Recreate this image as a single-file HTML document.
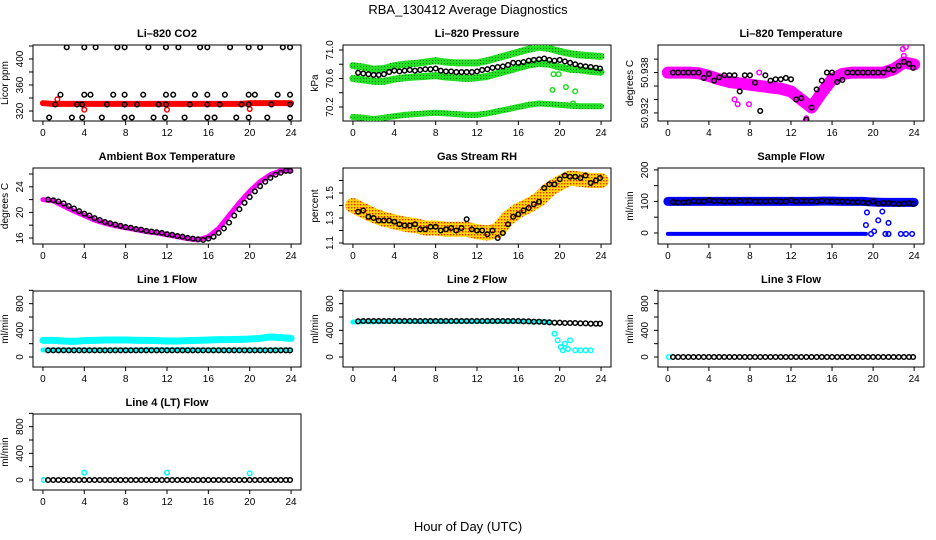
<!DOCTYPE html>
<html><head><meta charset="utf-8"><style>
html,body{margin:0;padding:0;background:#fff}
svg{display:block;font-family:"Liberation Sans",sans-serif}
</style></head><body>
<svg id="c" width="936" height="540" viewBox="0 0 936 540">
<text x="468" y="14" text-anchor="middle" font-size="13">RBA_130412  Average Diagnostics</text>
<text x="468" y="531" text-anchor="middle" font-size="13">Hour of Day (UTC)</text>
</svg>
<script>
// ---------- data ----------
const H24=[0,1,2,3,4,5,6,7,8,9,10,11,12,13,14,15,16,17,18,19,20,21,22,23,24];
const HB=[0.5,1,1.5,2,2.5,3,3.5,4,4.5,5,5.5,6,6.5,7,7.5,8,8.5,9,9.5,10,10.5,11,11.5,12,12.5,13,13.5,14,14.5,15,15.5,16,16.5,17,17.5,18,18.5,19,19.5,20,20.5,21,21.5,22,22.5,23,23.5,23.9];
// CO2
const co2X=[2.3,4.0,5.1,7.2,7.9,10.2,11.9,13.1,15.2,15.9,18.1,19.9,21.0,23.2,23.9,
1.7,4.0,4.6,6.8,7.9,9.7,11.9,12.6,14.7,15.9,17.6,19.9,20.5,22.7,23.9,
1.2,3.3,3.8,6.2,7.9,9.1,11.2,11.9,14.2,15.9,17.1,19.2,19.9,22.1,23.9,
0.6,2.8,3.8,5.7,7.9,8.6,10.7,11.8,13.7,15.9,16.6,18.7,19.9,21.7,23.9];
const co2Y=[418,418,418,418,418,418,418,418,418,418,418,418,418,418,418,
345,345,345,345,345,345,345,345,345,345,345,345,345,345,345,
330,330,330,330,330,330,330,330,330,330,330,330,330,330,330,
310,310,310,310,310,310,310,310,310,310,310,310,310,310,310];
const co2Band=[332,331,331,331,331,331,331,331,331,331,331,331,331,331,331,331,331,331,331,331,332,332,332,332,332];
const co2RedX=[1.4,4.0,12.0,20.0];
const co2RedY=[338,322,322,323];
// Pressure
const pUpper=[70.78,70.76,70.73,70.74,70.78,70.80,70.81,70.83,70.85,70.83,70.82,70.82,70.82,70.85,70.89,70.93,70.97,71.01,71.04,71.02,70.98,70.95,70.93,70.92,70.91];
const pMid=[70.60,70.58,70.56,70.56,70.59,70.61,70.62,70.63,70.64,70.62,70.61,70.60,70.61,70.63,70.67,70.71,70.75,70.79,70.81,70.80,70.76,70.73,70.72,70.70,70.69];
const pLow=[70.06,70.05,70.03,70.05,70.07,70.09,70.10,70.11,70.12,70.11,70.10,70.09,70.09,70.11,70.14,70.17,70.20,70.23,70.25,70.24,70.23,70.22,70.21,70.21,70.21];
const pGreenX=[19.4,19.3,20.6,21.5,19.9,21.3];
const pGreenY=[70.66,70.44,70.48,70.42,70.66,70.25];
const pBlack=[70.68,70.67,70.66,70.65,70.65,70.66,70.69,70.71,70.70,70.71,70.72,70.71,70.72,70.73,70.73,70.74,70.71,70.70,70.70,70.69,70.69,70.69,70.69,70.70,70.72,70.73,70.75,70.76,70.77,70.79,70.82,70.82,70.83,70.85,70.86,70.87,70.88,70.86,70.85,70.86,70.84,70.82,70.80,70.78,70.77,70.76,70.75,70.74];
// Li-820 temperature
const tBand=[50.9380,50.9380,50.9380,50.9379,50.9375,50.9370,50.9366,50.9364,50.9362,50.9360,50.9358,50.9356,50.9352,50.9340,50.9328,50.9350,50.9370,50.9378,50.9380,50.9380,50.9380,50.9380,50.9385,50.9395,50.9392];
const tOutX=[6.5,6.8,7.9,13.4,13.5,22.9,23.2,23.0,8.9];
const tOutY=[50.9340,50.9333,50.9333,50.9308,50.9312,50.9415,50.9418,50.9405,50.9380];
const tBlack=[50.9380,50.9380,50.9380,50.9380,50.9380,50.9380,50.9372,50.9378,50.9368,50.9373,50.9376,50.9376,50.9376,50.9352,50.9376,50.9376,50.9365,50.9323,50.9376,50.9368,50.9370,50.9370,50.9372,50.9370,50.9340,50.9342,50.9310,50.9328,50.9355,50.9368,50.9380,50.9380,50.9366,50.9369,50.9380,50.9380,50.9380,50.9380,50.9380,50.9380,50.9380,50.9380,50.9385,50.9384,50.9390,50.9396,50.9393,50.9387];
// Ambient box temperature
const ambBand=[22,21.8,21,20.2,19.5,18.8,18.3,17.9,17.6,17.3,17,16.8,16.5,16.2,15.9,15.7,16.2,17.5,19.5,21.5,23.3,24.8,25.9,26.5,26.5];
const ambBlack=[22,21.9,21.7,21.4,21,20.6,20.2,19.8,19.5,19.1,18.8,18.5,18.3,18.1,17.9,17.7,17.6,17.4,17.3,17.1,17,16.9,16.8,16.6,16.5,16.3,16.2,16,15.9,15.8,15.7,15.9,16.2,16.8,17.5,18.4,19.5,20.5,21.5,22.4,23.3,24.1,24.8,25.4,25.9,26.2,26.5,26.5];
// Gas stream RH
const rhBand=[1.40,1.36,1.32,1.29,1.27,1.25,1.24,1.22,1.22,1.21,1.21,1.21,1.19,1.18,1.20,1.30,1.36,1.40,1.45,1.53,1.58,1.62,1.61,1.60,1.60];
const rhBlack=[1.35,1.36,1.31,1.30,1.28,1.28,1.28,1.27,1.25,1.24,1.24,1.25,1.21,1.21,1.23,1.23,1.20,1.21,1.22,1.20,1.22,1.29,1.21,1.20,1.20,1.17,1.20,1.14,1.18,1.25,1.31,1.33,1.36,1.38,1.41,1.43,1.54,1.57,1.57,1.61,1.64,1.63,1.63,1.62,1.64,1.58,1.60,1.62];
// Sample flow
const sfUpper=[100,100,100,100,100,100,100,100,100,100,100,100,100,100,100,101,101,100,100,100,98,97,97,97,97];
const sfLowX=[0,19.3];
const sfLowY=[-3,-3];
const sfBlueX=[19.3,19.4,19.8,20.1,20.5,20.9,21.5,21.2,21.5,22.7,23.2,23.8];
const sfBlueY=[25,65,-3,5,40,68,32,-3,-3,-3,-3,-3];
const sfBlack=[98,97,97,98,101,100,100,104,101,102,100,100,100,102,101,102,100,100,100,101,101,100,100,104,100,101,101,101,100,102,101,100,100,100,99,98,98,97,95,100,93,95,95,93,92,93,95,92];
// Line flows
const l1Upper=[250,250,240,235,245,250,255,255,255,250,250,245,240,240,245,250,255,260,260,265,270,280,300,290,280];
const l1Lower=[105,105,105,105,105,105,105,105,105,105,108,108,108,108,108,105,105,105,105,105,105,105,105,105,105];
const l1Black=[100,100,100,100,100,100,100,100,100,100,100,100,100,100,100,100,100,100,100,100,100,100,100,100,100,100,100,100,100,100,100,100,100,100,100,100,100,100,100,100,100,100,100,100,100,100,100,100];
const l2Band=[525,530,530,532,535,535,535,535,535,535,535,535,535,535,535,535,535,530,530,525];
const l2CyanX=[19.5,19.8,20.1,20.3,20.5,20.8,21,21.5,22,22.5,23];
const l2CyanY=[350,250,150,100,200,120,250,100,100,100,100];
const l2Black=[535,540,540,540,540,540,540,540,540,540,540,540,540,540,540,540,540,540,540,540,540,540,540,540,540,540,540,540,540,540,540,540,535,535,530,530,525,520,515,515,510,510,510,505,505,500,500,500];
const zeroBlack=[0,0,0,0,0,0,0,0,0,0,0,0,0,0,0,0,0,0,0,0,0,0,0,0,0,0,0,0,0,0,0,0,0,0,0,0,0,0,0,0,0,0,0,0,0,0,0,0];
const l4CyanX=[0.1,4.0,12.0,20.0];
const l4CyanY=[0,110,110,100];
const xTicks=[0,4,8,12,16,20,24];

// ---------- drawing ----------
const NS='http://www.w3.org/2000/svg';
const svg=document.getElementById('c');
function mk(tag,attrs,parent){const e=document.createElementNS(NS,tag);for(const k in attrs)e.setAttribute(k,attrs[k]);(parent||svg).appendChild(e);return e;}
const COLS=[[33,301],[343,611],[658,924]];
const ROWS=[[45,121],[168,244],[291,367],[414,490]];
function panel(col,row,name,title,ytitle,ylim,ticks,labels){
  const [l,r]=COLS[col],[t,b]=ROWS[row];
  const g=mk('g',{});
  
  
  const P={g,l,r,t,b,
    x:v=>l+(v+0.96)/25.92*(r-l),
    y:v=>b-(v-ylim[0])/(ylim[1]-ylim[0])*(b-t)};
  const box=mk('rect',{x:l,y:t,width:r-l,height:b-t,fill:'none',stroke:'#000','stroke-width':1},g);
  
  
  const tt=mk('text',{x:(l+r)/2,y:t-8,'text-anchor':'middle','font-size':11,'font-weight':'bold'},g);
  tt.textContent=title;
  
  
  const yt=mk('text',{transform:`translate(${l-25},${(t+b)/2}) rotate(-90)`,'text-anchor':'middle','font-size':10},g);
  yt.textContent=ytitle;
  
  
  const xa=mk('g',{},g);
  
  
  mk('line',{x1:P.x(xTicks[0]),x2:P.x(xTicks[xTicks.length-1]),y1:b,y2:b,stroke:'#000'},xa);
  xTicks.forEach(v=>{mk('line',{x1:P.x(v),x2:P.x(v),y1:b,y2:b+4,stroke:'#000'},xa);
    const tx=mk('text',{x:P.x(v),y:b+15,'text-anchor':'middle','font-size':10},xa);tx.textContent=v;
    
    });
  const ya=mk('g',{},g);
  
  
  mk('line',{x1:l,x2:l,y1:P.y(ticks[0]),y2:P.y(ticks[ticks.length-1]),stroke:'#000'},ya);
  ticks.forEach((v,i)=>{mk('line',{x1:l-4,x2:l,y1:P.y(v),y2:P.y(v),stroke:'#000'},ya);
    if(labels[i]){const tx=mk('text',{transform:`translate(${l-10},${P.y(v)}) rotate(-90)`,'text-anchor':'middle','font-size':10},ya);tx.textContent=labels[i];
    
    }});
  const clip='cp'+col+row;
  const cp=mk('clipPath',{id:clip},g);mk('rect',{x:l,y:t,width:r-l,height:b-t},cp);
  P.d=mk('g',{'clip-path':`url(#${clip})`},g);
  return P;
}
function band(P,xs,ys,color,w,name){
  const pts=xs.map((v,i)=>P.x(v)+','+P.y(ys[i])).join(' ');
  const e=mk('polyline',{points:pts,fill:'none',stroke:color,'stroke-width':w,'stroke-linecap':'round','stroke-linejoin':'round'},P.d);
  
  
}
function pts(P,xs,ys,color,name,r,sw){
  const g=mk('g',{},P.d);
  
  
  xs.forEach((v,i)=>{if(ys[i]==null)return;mk('circle',{cx:P.x(v),cy:P.y(ys[i]),r:r||2.3,fill:'none',stroke:color,'stroke-width':sw||1.5},g);});
}
const defs=mk('defs',{});
const pat=mk('pattern',{id:'rhpat',width:3,height:3,patternUnits:'userSpaceOnUse'},defs);
mk('rect',{width:3,height:3,fill:'#ffd800'},pat);mk('rect',{width:1.4,height:1.4,fill:'#ff2000'},pat);
const gp=mk('pattern',{id:'gpat',width:3,height:3,patternUnits:'userSpaceOnUse'},defs);
mk('rect',{width:3,height:3,fill:'#22e022'},gp);mk('rect',{width:1,height:1,fill:'#117711'},gp);

let P=panel(0,0,'panel-co2','Li\u2013820 CO2','Licor ppm',[304.6,421.5],[320,340,360,380,400,420],['320','','360','','400','']);
band(P,H24,co2Band,'#ff0000',6,'co2-band');
pts(P,co2RedX,co2RedY,'#ff0000','co2-red-points');
pts(P,co2X,co2Y,'#000','co2-points');
P=panel(1,0,'panel-pressure','Li\u2013820 Pressure','kPa',[70.0035,71.07],[70.2,70.4,70.6,70.8,71.0],['70.2','','70.6','','71.0']);
band(P,H24,pUpper,'url(#gpat)',7,'pressure-upper-band');
band(P,H24,pMid,'url(#gpat)',7,'pressure-mid-band');
band(P,H24,pLow,'url(#gpat)',6,'pressure-low-band');
pts(P,pGreenX,pGreenY,'#22dd22','pressure-green-points');
pts(P,HB,pBlack,'#000','pressure-points');
P=panel(2,0,'panel-li820-temp','Li\u2013820 Temperature','degrees C',[50.9308,50.9421],[50.932,50.934,50.936,50.938,50.940],['50.932','','','50.938','']);
band(P,H24,tBand,'#ff00ff',12,'temp-band');
pts(P,tOutX,tOutY,'#ff00ff','temp-outliers');
pts(P,HB,tBlack,'#000','temp-points');
P=panel(0,1,'panel-ambient','Ambient Box Temperature','degrees C',[15.06,26.94],[16,18,20,22,24,26],['16','','20','','24','']);
band(P,H24,ambBand,'#ff00ff',5,'ambient-band');
pts(P,HB,ambBlack,'#000','ambient-points');
P=panel(1,1,'panel-rh','Gas Stream RH','percent',[1.092,1.70],[1.1,1.2,1.3,1.4,1.5,1.6],['1.1','','1.3','','1.5','']);
band(P,H24,rhBand,'url(#rhpat)',15,'rh-band');
pts(P,HB,rhBlack,'#000','rh-points');
P=panel(2,1,'panel-sample-flow','Sample Flow','ml/min',[-35,206],[0,50,100,150,200],['0','','100','','200']);
band(P,H24,sfUpper,'#0000ff',9,'sample-flow-band');
band(P,sfLowX,sfLowY,'#0000ff',4,'sample-flow-zero-band');
pts(P,sfBlueX,sfBlueY,'#0000ff','sample-flow-blue-points');
pts(P,HB,sfBlack,'#000','sample-flow-points');
const LY=[-150,990],LT=[0,200,400,600,800,1000],LL=['0','','400','','800',''];
P=panel(0,2,'panel-line1','Line 1 Flow','ml/min',LY,LT,LL);
band(P,H24,l1Upper,'#00ffff',7,'line1-upper-band');
band(P,H24,l1Lower,'#00ffff',5,'line1-lower-band');
pts(P,HB,l1Black,'#000','line1-points');
P=panel(1,2,'panel-line2','Line 2 Flow','ml/min',LY,LT,LL);
band(P,H24.slice(0,20),l2Band,'#00ffff',5,'line2-band');
pts(P,l2CyanX,l2CyanY,'#00ffff','line2-cyan-points');
pts(P,HB,l2Black,'#000','line2-points');
P=panel(2,2,'panel-line3','Line 3 Flow','ml/min',LY,LT,LL);
pts(P,[0.1],[0],'#00ffff','line3-cyan-points');
pts(P,HB,zeroBlack,'#000','line3-points');
P=panel(0,3,'panel-line4','Line 4 (LT) Flow','ml/min',LY,LT,LL);
pts(P,l4CyanX,l4CyanY,'#00ffff','line4-cyan-points');
pts(P,HB,zeroBlack,'#000','line4-points');
</script>
</body></html>
